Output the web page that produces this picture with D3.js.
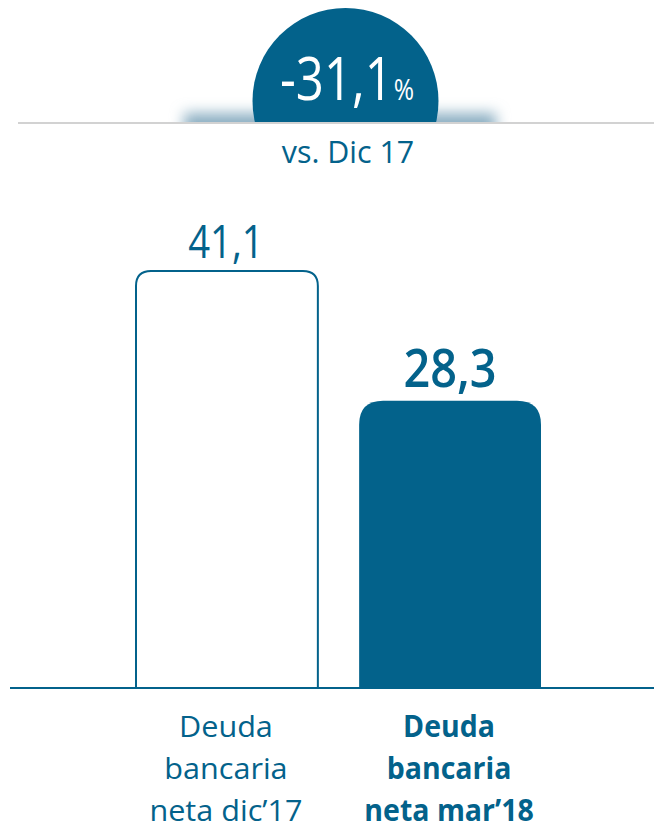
<!DOCTYPE html>
<html>
<head>
<meta charset="utf-8">
<script src="https://cdn.jsdelivr.net/npm/d3@7"></script>
<style>
  body { margin: 0; background: #fff; }
  svg { display: block; }
  text { font-family: "Open Sans", "Noto Sans", sans-serif; fill: #03628b; }
</style>
</head>
<body>
<div id="graphic"></div>
<script>
// chart values
const categories = ['dic17', 'mar18'];
const values = [41.1, 28.3];
const valueLabels = ['41,1', '28,3'];
const categoryLabels = [
  ['Deuda', 'bancaria', 'neta dic\u201917'],
  ['Deuda', 'bancaria', 'neta mar\u201918']
];
const changeValue = '-31,1';
const changeUnit = '%';
const changeNote = 'vs. Dic 17';

(function () {
  var width = 654;
  var height = 831;
  var blue = '#03628b';
  var sx = 0.88; // squeeze text horizontally, the original face is narrower

  var svg = d3.select('#graphic')
    .append('svg')
    .attr('width', width)
    .attr('height', height);

  var defs = svg.append('defs');
  defs.append('filter').attr('id', 'blur')
    .attr('x', '-30%').attr('y', '-200%').attr('width', '160%').attr('height', '500%')
    .append('feGaussianBlur').attr('stdDeviation', 7);
  defs.append('clipPath').attr('id', 'above')
    .append('rect').attr('x', 0).attr('y', 0).attr('width', width).attr('height', 122);

  var x = d3.scaleBand()
    .domain(categories)
    .range([136, 541])
    .paddingInner(0.185);

  var y = d3.scaleLinear()
    .domain([0, d3.max(values)])
    .range([688, 271]);

  function squeezed(sel, cx, cy, factor) {
    return sel.attr('x', 0).attr('y', 0)
      .attr('transform', 'translate(' + cx + ',' + cy + ') scale(' + (factor || sx) + ',1)');
  }

  // top badge, soft shadow sitting on the grey rule
  var top = svg.append('g');
  top.append('rect')
    .attr('x', 184).attr('y', 113).attr('width', 312).attr('height', 26)
    .attr('fill', '#8cafc2')
    .attr('filter', 'url(#blur)')
    .attr('clip-path', 'url(#above)');

  top.append('circle')
    .attr('cx', 345.5).attr('cy', 101).attr('r', 93)
    .attr('fill', blue)
    .attr('clip-path', 'url(#above)');

  top.append('line')
    .attr('x1', 18).attr('x2', width)
    .attr('y1', 123).attr('y2', 123)
    .attr('stroke', '#d2d2d2').attr('stroke-width', 2);

  var badge = squeezed(top.append('text'), 347, 100, 0.82)
    .attr('text-anchor', 'middle')
    .style('fill', '#fff');
  badge.append('tspan').style('font-size', '60px').text(changeValue);
  badge.append('tspan').style('font-size', '30px').attr('dx', 1).text(changeUnit);

  squeezed(top.append('text'), 348, 163, 0.98)
    .attr('text-anchor', 'middle')
    .style('font-size', '31px')
    .text(changeNote);

  // bars with rounded tops
  function roundTop(x0, y0, w, h, r) {
    return 'M' + x0 + ',' + (y0 + h) +
      'V' + (y0 + r) +
      'Q' + x0 + ',' + y0 + ' ' + (x0 + r) + ',' + y0 +
      'H' + (x0 + w - r) +
      'Q' + (x0 + w) + ',' + y0 + ' ' + (x0 + w) + ',' + (y0 + r) +
      'V' + (y0 + h);
  }

  var bars = svg.append('g');
  bars.selectAll('path')
    .data(values)
    .enter().append('path')
    .attr('d', (d, i) => {
      var r = i == 0 ? 15 : 24;
      return roundTop(x(categories[i]), y(d), x.bandwidth(), y(0) - y(d), r) + (i == 1 ? 'Z' : '');
    })
    .attr('fill', (d, i) => i == 0 ? '#fff' : blue)
    .attr('stroke', blue)
    .attr('stroke-width', (d, i) => i == 0 ? 2 : 0);

  // baseline
  svg.append('line')
    .attr('x1', 10).attr('x2', width)
    .attr('y1', y(0)).attr('y2', y(0))
    .attr('stroke', blue).attr('stroke-width', 2);

  // value labels
  bars.selectAll('text.value')
    .data(values)
    .enter().append('text')
    .attr('class', 'value')
    .each(function (d, i) {
      squeezed(d3.select(this), x(categories[i]) + x.bandwidth() / 2 + (i == 0 ? -1 : 0), y(d) - (i == 0 ? 13 : 14), i == 0 ? 0.85 : 0.9)
        .attr('text-anchor', 'middle')
        .style('font-size', i == 0 ? '45px' : '52px')
        .style('font-weight', i == 0 ? 400 : 600)
        .text(valueLabels[i]);
    });

  // category labels
  var cats = svg.append('g').selectAll('g')
    .data(categories)
    .enter().append('g');

  cats.each(function (c, i) {
    var g = d3.select(this);
    categoryLabels[i].forEach((line, j) => {
      squeezed(g.append('text'), x(c) + x.bandwidth() / 2 - 1, 737 + j * 42, i == 0 ? 1.02 : 0.95)
        .attr('text-anchor', 'middle')
        .style('font-size', '30px')
        .style('font-weight', i == 0 ? 400 : 700)
        .text(line);
    });
  });
})();
</script>
</body>
</html>
